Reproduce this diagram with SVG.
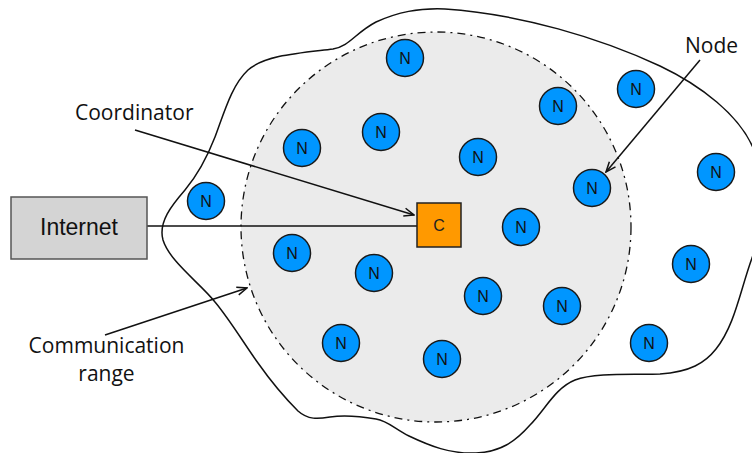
<svg xmlns="http://www.w3.org/2000/svg" width="752" height="453" viewBox="0 0 752 453">
  <style>
    .label { font-family: "Open Sans", "Liberation Sans", sans-serif; font-size: 21px; fill: #111; }
    .node circle { fill: #0096FF; stroke: #1a1a1a; stroke-width: 1.5; }
    .node text { font-family: "Liberation Sans", Arial, sans-serif; font-size: 16px; fill: #111; text-anchor: middle; }
    .conn { stroke: #111; stroke-width: 1.5; fill: none; }
  </style>
  <defs>
    <marker id="arrow" viewBox="0 0 12 10" refX="11" refY="5" markerWidth="12" markerHeight="10" markerUnits="userSpaceOnUse" orient="auto">
      <path d="M1,1 L11,5 L1,9" fill="none" stroke="#111" stroke-width="1.5"/>
    </marker>
  </defs>

  <rect width="752" height="453" fill="#ffffff"/>

  <!-- deployment area outline -->
  <path id="area" d="M376,22 C398,12 418,8 445,9 C520,14 600,38 660,66 C700,85 740,115 754,150 C768,185 764,225 752,258 C740,291 735,325 716,349 C705,363 690,372 660,374 C635,375 595,372 575,380 C555,388 545,410 530,425 C515,442 500,452 476,453 C450,454 430,446 409,436 C395,429 388,421 376,419 C364,417 345,415 330,417 C318,419 308,420 298,411 C285,398 270,380 258,363 C245,345 230,320 215,302 C200,283 170,262 163,240 C158,222 172,205 185,190 C200,172 208,155 215,137 C225,110 232,85 248,70 C265,55 300,53 333,49 C350,46 355,33 376,22 Z" fill="none" stroke="#111" stroke-width="1.5"/>

  <!-- coordinator communication range -->
  <circle id="range" cx="436" cy="227" r="195" fill="#EBEBEB" stroke="#111" stroke-width="1.3" stroke-dasharray="8 5 2 5"/>

  <!-- connectors -->
  <g id="connectors">
    <line class="conn" x1="147" y1="226" x2="417" y2="226"/>
    <line class="conn" x1="135" y1="130" x2="414" y2="215" marker-end="url(#arrow)"/>
    <line class="conn" x1="700" y1="60" x2="606" y2="172" marker-end="url(#arrow)"/>
    <line class="conn" x1="105" y1="335" x2="247" y2="288" marker-end="url(#arrow)"/>
  </g>

  <!-- gateway to the internet -->
  <g id="internet">
    <rect x="11" y="197" width="136" height="62" fill="#D4D4D4" stroke="#555" stroke-width="1.5"/>
    <text x="79" y="235" font-family="Liberation Sans, Arial, sans-serif" font-size="23" fill="#111" text-anchor="middle">Internet</text>
  </g>

  <!-- coordinator -->
  <g id="coordinator">
    <rect x="417" y="203" width="44" height="44" fill="#FF9900" stroke="#222" stroke-width="1.5"/>
    <text x="439" y="231" font-family="Liberation Sans, Arial, sans-serif" font-size="16" fill="#222" text-anchor="middle">C</text>
  </g>

  <!-- sensor nodes -->
  <g id="n1" class="node"><circle cx="405" cy="58" r="18.5"/><text x="405" y="64">N</text></g>
  <g id="n2" class="node"><circle cx="636" cy="89" r="18.5"/><text x="636" y="95">N</text></g>
  <g id="n3" class="node"><circle cx="558" cy="106" r="18.5"/><text x="558" y="112">N</text></g>
  <g id="n4" class="node"><circle cx="302" cy="148" r="18.5"/><text x="302" y="154">N</text></g>
  <g id="n5" class="node"><circle cx="381" cy="132" r="18.5"/><text x="381" y="138">N</text></g>
  <g id="n6" class="node"><circle cx="478" cy="157" r="18.5"/><text x="478" y="163">N</text></g>
  <g id="n7" class="node"><circle cx="206" cy="201" r="18.5"/><text x="206" y="207">N</text></g>
  <g id="n8" class="node"><circle cx="592" cy="188" r="18.5"/><text x="592" y="194">N</text></g>
  <g id="n9" class="node"><circle cx="716" cy="172" r="18.5"/><text x="716" y="178">N</text></g>
  <g id="n10" class="node"><circle cx="521" cy="227" r="18.5"/><text x="521" y="233">N</text></g>
  <g id="n11" class="node"><circle cx="292" cy="253" r="18.5"/><text x="292" y="259">N</text></g>
  <g id="n12" class="node"><circle cx="374" cy="273" r="18.5"/><text x="374" y="279">N</text></g>
  <g id="n13" class="node"><circle cx="483" cy="296" r="18.5"/><text x="483" y="302">N</text></g>
  <g id="n14" class="node"><circle cx="562" cy="306" r="18.5"/><text x="562" y="312">N</text></g>
  <g id="n15" class="node"><circle cx="691" cy="264" r="18.5"/><text x="691" y="270">N</text></g>
  <g id="n16" class="node"><circle cx="341" cy="343" r="18.5"/><text x="341" y="349">N</text></g>
  <g id="n17" class="node"><circle cx="442" cy="359" r="18.5"/><text x="442" y="365">N</text></g>
  <g id="n18" class="node"><circle cx="649" cy="343" r="18.5"/><text x="649" y="349">N</text></g>

  <!-- annotations -->
  <g id="labels">
    <text class="label" x="75" y="120">Coordinator</text>
    <text class="label" x="685" y="53">Node</text>
    <text class="label" x="106.5" y="353" text-anchor="middle">Communication</text>
    <text class="label" x="106.5" y="381" text-anchor="middle">range</text>
  </g>
</svg>
